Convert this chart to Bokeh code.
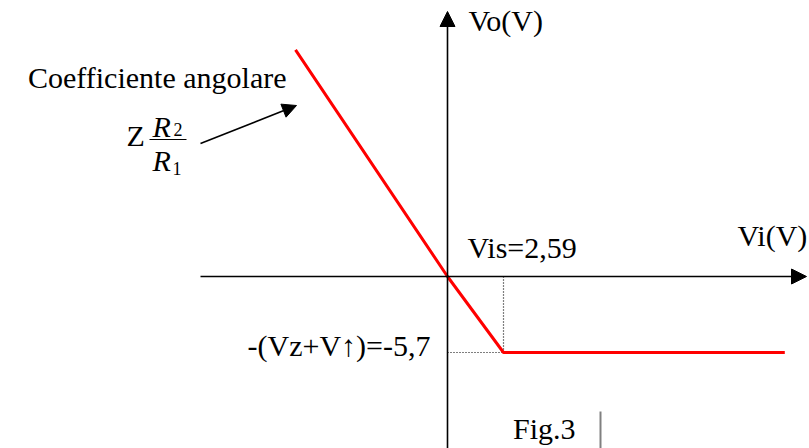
from bokeh.plotting import figure
from bokeh.models import Range1d, Label, Arrow, NormalHead
from bokeh.embed import file_html
from bokeh.resources import INLINE

# Transfer characteristic Vo(Vi) of the comparator stage
vi = [-7.03, 0.0, 2.59, 15.6]
vo = [17.0, 0.0, -5.7, -5.7]
vis = 2.59          # switching threshold
vsat = -5.7         # -(Vz+V) clamp level

W, H = 809, 448
OX, OY = 447, 276               # where the two axes cross, in pixels
KX = (503 - OX) / vis           # pixels per volt on Vi
KY = (352 - OY) / -vsat         # pixels per volt on Vo
LIFT = 10                       # text baseline correction, pixels


def dx(px):
    return (px - OX) / KX


def dy(py):
    return (OY - py) / KY


p = figure(width=W, height=H, output_backend="svg", toolbar_location=None,
           x_range=Range1d(dx(0), dx(W)), y_range=Range1d(dy(H), dy(0)),
           min_border=0, outline_line_color=None)
p.axis.visible = False
p.grid.visible = False
p.background_fill_color = "white"
p.border_fill_color = "white"

SERIF = "Liberation Serif"

# axes with arrow heads
p.add_layout(Arrow(x_start=dx(200), y_start=0, x_end=dx(806), y_end=0,
                   line_color="black", line_width=1.6,
                   end=NormalHead(size=15, fill_color="black", line_color="black")))
p.add_layout(Arrow(x_start=0, y_start=dy(H), x_end=0, y_end=dy(11),
                   line_color="black", line_width=1.6,
                   end=NormalHead(size=15, fill_color="black", line_color="black")))

# dotted guides to the knee
p.line([vis, vis], [0, vsat], line_color="black", line_width=1.2, line_dash="1 2")
p.line([0, vis], [vsat, vsat], line_color="black", line_width=1.2, line_dash="1 2")

# characteristic
p.line(vi, vo, line_color="#ff0000", line_width=3)


def label(text, px, py, size="30px", align="left", style="normal", color="black"):
    p.add_layout(Label(x=dx(px), y=dy(py - LIFT), text=text, text_font=SERIF,
                       text_font_size=size, text_align=align,
                       text_baseline="alphabetic", text_font_style=style,
                       text_color=color))


label("Vo(V)", 468, 30)
label("Vi(V)", 737, 245)
label("Vis=2,59", 467, 257)
label("-(Vz+V\u2191)=-5,7", 430, 355, align="right")
label("Fig.3", 575, 438, align="right")
label("Coefficiente angolare", 286, 87, align="right")

# slope annotation: Z * R2 / R1
label("Z", 126, 145)
label("R", 152, 136, style="italic")
label("2", 173, 139, size="18px")
label("R", 152, 170, style="italic")
label("1", 172, 178, size="18px")
p.line([dx(149), dx(186)], [dy(139), dy(139)], line_color="black", line_width=1.2)
p.add_layout(Arrow(x_start=dx(200), y_start=dy(143), x_end=dx(296), y_end=dy(105),
                   line_color="black", line_width=1.6,
                   end=NormalHead(size=14, fill_color="black", line_color="black")))

# caption separator bar
p.line([dx(600), dx(600)], [dy(411), dy(H)], line_color="#808080", line_width=2)

open("out.html", "w").write(file_html(p, INLINE))
